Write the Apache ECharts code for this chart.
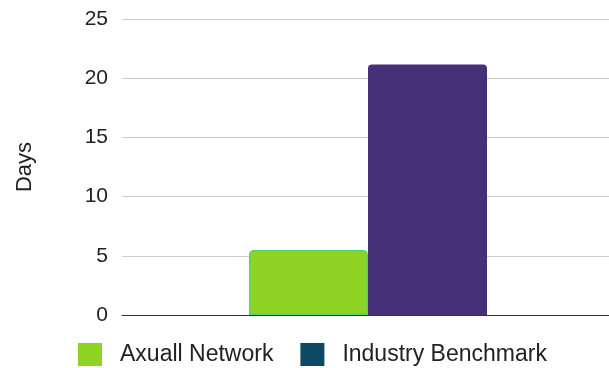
<!DOCTYPE html>
<html><head><meta charset="utf-8">
<script src="https://cdn.jsdelivr.net/npm/echarts@6/dist/echarts.min.js"></script>
<style>html,body{margin:0;padding:0;background:#fff}#c{width:609px;height:368px}</style>
</head><body><div id="c"></div>
<script>
const categories = ['Days'];
const seriesNames = ['Axuall Network', 'Industry Benchmark'];
const axuallValues = [5.5];
const benchmarkValues = [21.15];
const yTicks = [0, 5, 10, 15, 20, 25];

const chart = echarts.init(document.getElementById('c'), null, {renderer: 'canvas'});
const font = 'Liberation Sans, Arial, sans-serif';
chart.setOption({
  animation: false,
  grid: {left: 122, width: 492, top: 19, bottom: 53, outerBoundsMode: 'none'},
  legend: {
    top: 338, left: 73,
    itemWidth: 24, itemHeight: 23, itemGap: 27,
    icon: 'rect',
    textStyle: {fontFamily: font, fontSize: 23, color: '#222', padding: [0, 0, 0, 13]},
    data: [
      {name: seriesNames[0], itemStyle: {color: '#8fd424', borderWidth: 0}},
      {name: seriesNames[1], itemStyle: {color: '#0c4a63', borderWidth: 0}}
    ]
  },
  xAxis: {
    type: 'category', data: categories,
    axisLine: {lineStyle: {color: '#333', width: 1}},
    axisTick: {show: false}, axisLabel: {show: false}
  },
  yAxis: {
    type: 'value', min: yTicks[0], max: yTicks[yTicks.length - 1], interval: 5,
    name: 'Days', nameLocation: 'middle', nameGap: 86, nameRotate: 90,
    nameTextStyle: {fontFamily: font, fontSize: 22, color: '#222'},
    axisLine: {show: false}, axisTick: {show: false},
    axisLabel: {fontFamily: font, fontSize: 21, color: '#222', margin: 14},
    splitLine: {lineStyle: {color: '#ccc', width: 1}}
  },
  series: [
    {name: seriesNames[0], type: 'bar', data: axuallValues, barWidth: 119, barGap: '0%',
     itemStyle: {color: '#8fd424', borderColor: '#4fd86a', borderWidth: 1.5, borderRadius: [4, 4, 0, 0]}},
    {name: seriesNames[1], type: 'bar', data: benchmarkValues, barWidth: 119,
     itemStyle: {color: '#463077', borderRadius: [4, 4, 0, 0]}}
  ]
});
</script></body></html>
